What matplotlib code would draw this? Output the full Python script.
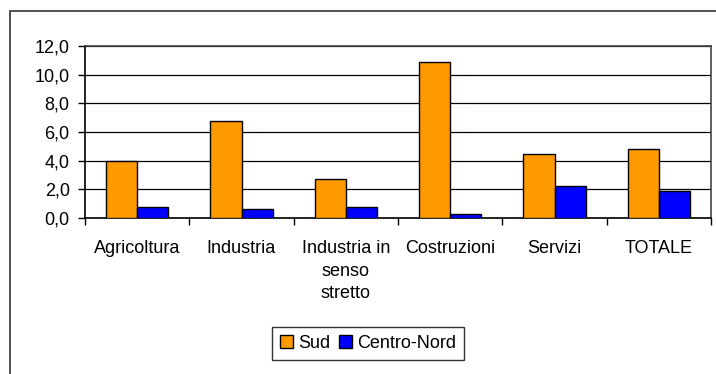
import matplotlib.pyplot as plt
import numpy as np
from matplotlib.patches import Rectangle

plt.rcParams['font.family'] = ['Liberation Sans', 'DejaVu Sans']

categorie = ["Agricoltura", "Industria", "Industria in\nsenso\nstretto",
             "Costruzioni", "Servizi", "TOTALE"]
sud = [4.0, 6.8, 2.7, 10.9, 4.5, 4.8]
centro_nord = [0.8, 0.6, 0.8, 0.3, 2.2, 1.9]

fig = plt.figure(figsize=(7.16, 3.74), dpi=100)
# outer chart frame (only left and top visible)
fig.patches.append(Rectangle((9.5 / 716, -0.1), 1.2, 1 - 11.5 / 374 + 0.1,
                             transform=fig.transFigure, fill=False,
                             edgecolor='#333333', linewidth=1.2))

ax = fig.add_axes([85 / 716, 1 - 218 / 374, (711 - 85) / 716, (218 - 46) / 374])

x = np.arange(len(categorie))
w = 0.3
ax.bar(x - w / 2, sud, w, color='#ff9900', edgecolor='black', linewidth=1, label='Sud', zorder=3)
ax.bar(x + w / 2, centro_nord, w, color='#0000ff', edgecolor='black', linewidth=1, label='Centro-Nord', zorder=3)

ax.set_xlim(-0.5, len(categorie) - 0.5)
ax.set_ylim(0, 12)
ax.set_yticks(np.arange(0, 12.1, 2))
ax.set_yticklabels([f"{v:.1f}".replace('.', ',') for v in np.arange(0, 12.1, 2)], fontsize=13)
ax.yaxis.grid(True, color='black', linewidth=0.9, zorder=0)

# category labels between boundary ticks
ax.set_xticks(np.arange(-0.5, len(categorie), 1))
ax.set_xticklabels([])
ax.set_xticks(x, minor=True)
ax.set_xticklabels(categorie, minor=True, fontsize=13, linespacing=1.42, va='top')
ax.tick_params(axis='x', which='minor', length=0, pad=16)
ax.tick_params(axis='x', which='major', length=5, direction='out', width=1)
ax.tick_params(axis='y', length=5, direction='out', width=1, pad=6)

for s in ['top', 'right']:
    ax.spines[s].set_color('#444444')
for s in ax.spines.values():
    s.set_linewidth(1.2)

leg = fig.legend(loc='center', bbox_to_anchor=(368 / 716, 1 - 343.5 / 374), ncol=2,
                 fontsize=13, frameon=True, fancybox=False, edgecolor='black',
                 handlelength=0.7, handleheight=0.7, handletextpad=0.3,
                 columnspacing=0.5, borderpad=0.45, borderaxespad=0)
leg.get_frame().set_linewidth(1)

fig.savefig('out.png', dpi=100)
